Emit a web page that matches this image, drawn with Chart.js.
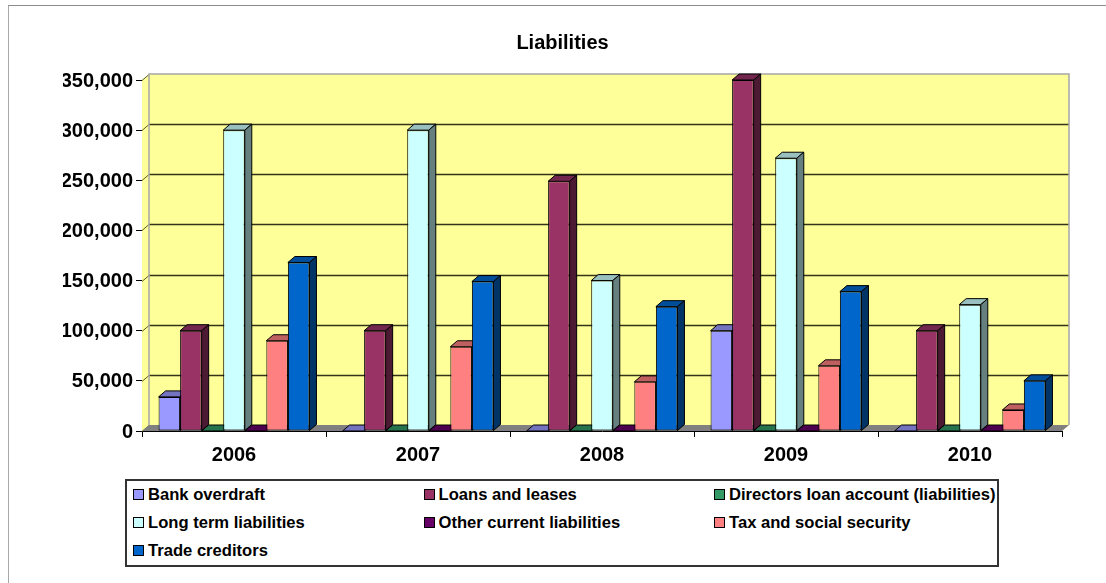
<!DOCTYPE html>
<html lang="en">
<head>
    <meta charset="UTF-8">
    <title>Liabilities</title>
    <script src="https://cdn.jsdelivr.net/npm/chart.js"></script>
    <style>
        html, body { margin: 0; width: 1106px; height: 583px; overflow: hidden; background: #fff; }
        #frame { position: absolute; left: 8px; top: 5px; width: 1098px; height: 578px; box-sizing: border-box;
                 border-top: 1px solid #8c8c8c; border-left: 1px solid #a8a8a8; }
        #liabilitiesChart { position: absolute; left: 19px; top: 1px; }
        #legendBox { position: absolute; left: 125px; top: 479px; width: 874px; height: 88px; box-sizing: border-box;
                     border: 2px solid #333; background: #fff; font: bold 16.6px "Liberation Sans", Arial, sans-serif; color: #000; }
        .legendItem { position: absolute; height: 20px; line-height: 20px; white-space: nowrap; padding-left: 15px; }
        .legendItem i { position: absolute; left: 0; top: 4px; width: 11px; height: 11px; box-sizing: border-box; border: 1px solid #000; }
    </style>
</head>
<body>
    <div id="frame"></div>
    <canvas id="liabilitiesChart" width="1087" height="582"></canvas>
    <div id="legendBox"></div>

    <script>
        const years = ["2006", "2007", "2008", "2009", "2010"];
        const seriesNames = ["Bank overdraft", "Loans and leases", "Directors loan account (liabilities)",
            "Long term liabilities", "Other current liabilities", "Tax and social security", "Trade creditors"];
        const seriesColors = ["#9999ff", "#993366", "#339966", "#ccffff", "#660066", "#ff8080", "#0066cc"];

        const bankOverdraft = [34000, 0, 0, 100000, 0];
        const loansAndLeases = [100000, 100000, 249000, 350000, 100000];
        const directorsLoan = [0, 0, 0, 0, 0];
        const longTerm = [300000, 300000, 150000, 272000, 126000];
        const otherCurrent = [0, 0, 0, 0, 0];
        const taxAndSocial = [90000, 84000, 49000, 65000, 21000];
        const tradeCreditors = [168000, 149000, 124000, 139000, 50000];
        const seriesValues = [bankOverdraft, loansAndLeases, directorsLoan, longTerm, otherCurrent, taxAndSocial, tradeCreditors];

        // how far the "3D" back wall sits behind the front plane
        const DEPTH_X = 7;
        const DEPTH_Y = 6;

        const FONT_FAMILY = "'Liberation Sans', Arial, sans-serif";

        function shade(hex, f) {
            let n = parseInt(hex.slice(1), 16);
            let r = Math.round((n >> 16 & 255) * f);
            let g = Math.round((n >> 8 & 255) * f);
            let b = Math.round((n & 255) * f);
            return `rgb(${r}, ${g}, ${b})`;
        }

        function poly(ctx, pts, fill, stroke) {
            ctx.beginPath();
            pts.forEach((p, i) => i ? ctx.lineTo(p[0], p[1]) : ctx.moveTo(p[0], p[1]));
            ctx.closePath();
            if (fill) { ctx.fillStyle = fill; ctx.fill(); }
            if (stroke) { ctx.strokeStyle = stroke; ctx.lineWidth = 1; ctx.stroke(); }
        }

        const box3d = {
            id: "box3d",
            // back wall, side wall, floor and wall gridlines
            beforeDatasetsDraw(chart) {
                const { ctx, chartArea: a, scales: { y } } = chart;
                ctx.save();
                poly(ctx, [[a.left, a.top], [a.left + DEPTH_X, a.top - DEPTH_Y], [a.right + DEPTH_X, a.top - DEPTH_Y],
                    [a.right + DEPTH_X, a.bottom - DEPTH_Y], [a.right, a.bottom], [a.left, a.bottom]], "#ffff99");
                y.ticks.forEach(t => {
                    let py = Math.round(y.getPixelForValue(t.value)) + 0.5;
                    ctx.strokeStyle = "#5a5a2e";
                    ctx.lineWidth = 1;
                    ctx.beginPath();
                    ctx.moveTo(a.left, py);
                    ctx.lineTo(a.left + DEPTH_X, py - DEPTH_Y);
                    ctx.stroke();
                    if (t.value > 0 && t.value < 350000) {
                        ctx.strokeStyle = "#33331a";
                        ctx.lineWidth = 1.5;
                        ctx.beginPath();
                        ctx.moveTo(a.left + DEPTH_X, py - DEPTH_Y);
                        ctx.lineTo(a.right + DEPTH_X, py - DEPTH_Y);
                        ctx.stroke();
                    }
                });
                ctx.strokeStyle = "#a6a6a6";
                ctx.lineWidth = 1.5;
                ctx.beginPath();
                ctx.moveTo(a.left + DEPTH_X, a.bottom - DEPTH_Y);
                ctx.lineTo(a.left + DEPTH_X, a.top - DEPTH_Y);
                ctx.lineTo(a.right + DEPTH_X, a.top - DEPTH_Y);
                ctx.lineTo(a.right + DEPTH_X, a.bottom - DEPTH_Y);
                ctx.stroke();
                poly(ctx, [[a.left, a.bottom], [a.left + DEPTH_X, a.bottom - DEPTH_Y],
                    [a.right + DEPTH_X, a.bottom - DEPTH_Y], [a.right, a.bottom]], "#808080");
                ctx.restore();
            },
            // the library draws last dataset first, bars have to overlap left to right
            beforeDatasetDraw() {
                return false;
            },
            afterDatasetsDraw(chart) {
                const { ctx } = chart;
                ctx.save();
                years.forEach((year, c) => {
                    seriesNames.forEach((name, s) => {
                        let bar = chart.getDatasetMeta(s).data[c];
                        let p = bar.getProps(["x", "y", "base", "width"], true);
                        let l = p.x - p.width / 2, r = p.x + p.width / 2;
                        let t = p.y, b = p.base;
                        let color = seriesColors[s];
                        poly(ctx, [[l, t], [l + DEPTH_X, t - DEPTH_Y], [r + DEPTH_X, t - DEPTH_Y], [r, t]], shade(color, 0.75), "#000");
                        if (b - t > 0.5) {
                            poly(ctx, [[r, t], [r + DEPTH_X, t - DEPTH_Y], [r + DEPTH_X, b - DEPTH_Y], [r, b]], shade(color, 0.5), "#000");
                            bar.draw(ctx);
                        }
                    });
                });
                ctx.restore();
            }
        };

        new Chart(document.getElementById("liabilitiesChart").getContext("2d"), {
            type: "bar",
            data: {
                labels: years,
                datasets: seriesNames.map((name, i) => ({
                    label: name,
                    data: seriesValues[i],
                    backgroundColor: seriesColors[i],
                    borderColor: "#000",
                    borderWidth: 1,
                    borderSkipped: false,
                    categoryPercentage: 0.82,
                    barPercentage: 1
                }))
            },
            options: {
                responsive: false,
                animation: false,
                // equal side padding keeps the title centred on the canvas
                layout: { padding: { left: 44, right: 44, top: 0, bottom: 0 } },
                plugins: {
                    legend: { display: false },
                    tooltip: { enabled: false },
                    title: {
                        display: true,
                        text: "Liabilities",
                        color: "#000",
                        font: { family: FONT_FAMILY, size: 20, weight: "bold" },
                        padding: { top: 30, bottom: 25 }
                    }
                },
                scales: {
                    x: {
                        grid: { display: true, drawOnChartArea: false, offset: true, color: "#000", tickLength: 6 },
                        border: { color: "#000", width: 1 },
                        ticks: {
                            color: "#000", padding: 6, maxRotation: 0,
                            font: { family: FONT_FAMILY, size: 20, weight: "bold" }
                        },
                        afterFit(scale) { scale.height = 152; }
                    },
                    y: {
                        min: 0,
                        max: 350000,
                        grid: { display: true, drawOnChartArea: false, color: "#000", tickLength: 6 },
                        border: { color: "#000", width: 1 },
                        ticks: {
                            stepSize: 50000, color: "#000", padding: 3, labelOffset: 1,
                            font: { family: FONT_FAMILY, size: 20, weight: "bold" },
                            callback: v => v.toLocaleString("en-US")
                        },
                        afterFit(scale) { scale.width = 79; }
                    }
                }
            },
            plugins: [box3d]
        });

        // legend box: three columns, filled row by row
        const legendBox = document.getElementById("legendBox");
        seriesNames.forEach((name, i) => {
            let item = document.createElement("div");
            item.className = "legendItem";
            item.style.left = (6 + (i % 3) * 290.5) + "px";
            item.style.top = (4 + Math.floor(i / 3) * 28) + "px";
            item.innerHTML = `<i style="background:${seriesColors[i]}"></i>${name}`;
            legendBox.appendChild(item);
        });
    </script>
</body>
</html>
